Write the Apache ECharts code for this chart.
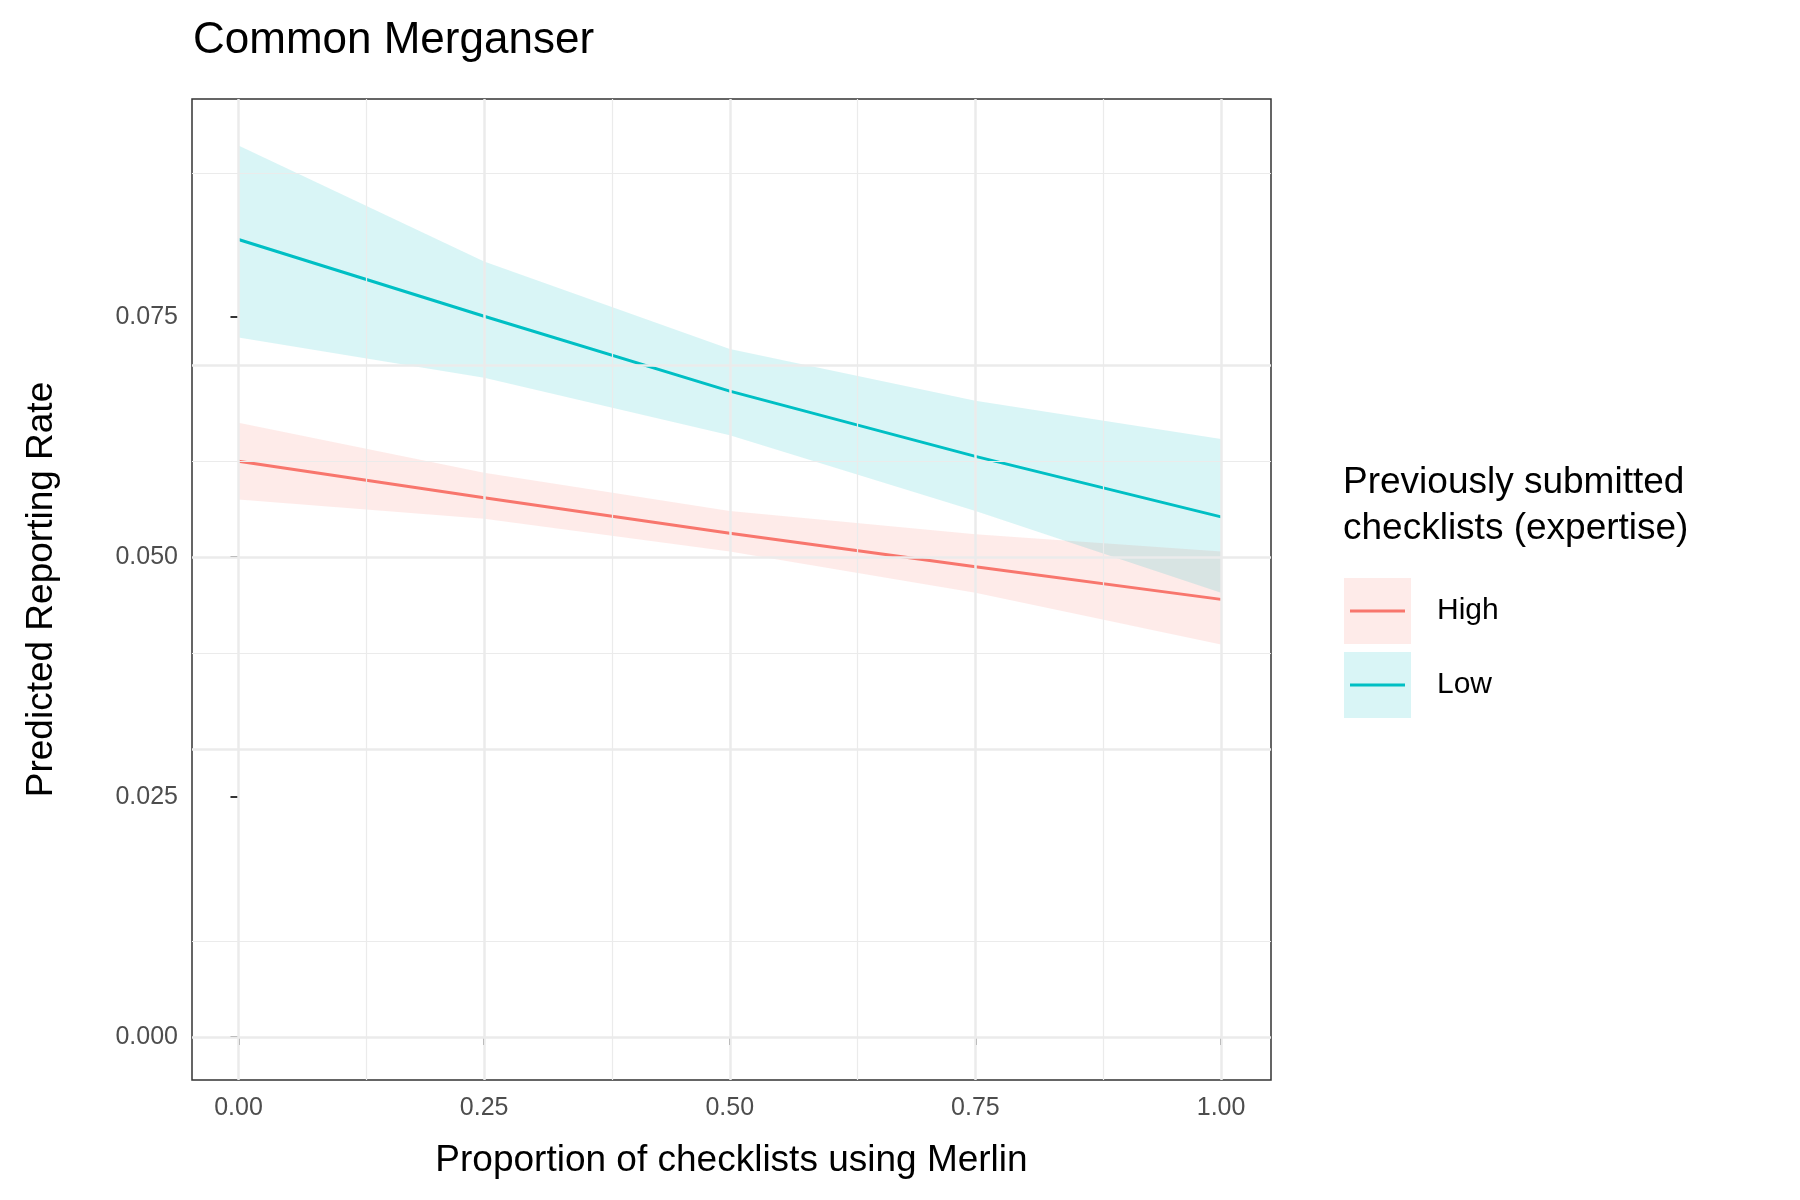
<!DOCTYPE html>
<html>
<head>
<meta charset="utf-8">
<title>Common Merganser</title>
<script src="https://cdn.jsdelivr.net/npm/echarts@6/dist/echarts.min.js"></script>
<style>html,body{margin:0;height:100%;background:#fff}</style>
</head>
<body>
<div id="main" style="width:1800px;height:1200px;"></div>
<script type="text/javascript">
// values
var xs = [0, 0.25, 0.5, 0.75, 1];
var highFit = [0.0600, 0.0562, 0.0525, 0.0490, 0.0456];
var highLo  = [0.0560, 0.0540, 0.0506, 0.0463, 0.0409];
var highHi  = [0.0640, 0.0588, 0.0548, 0.0524, 0.0506];
var lowFit  = [0.0831, 0.0751, 0.0673, 0.0605, 0.0542];
var lowLo   = [0.0729, 0.0687, 0.0627, 0.0548, 0.0463];
var lowHi   = [0.0929, 0.0808, 0.0717, 0.0663, 0.0623];
var yTicks = [0, 0.025, 0.05, 0.075];
var yMinor = [0.0125, 0.0375, 0.0625, 0.0875];
var xTicks = [0, 0.25, 0.5, 0.75, 1];
var xMinor = [0.125, 0.375, 0.625, 0.875];

var RED = '#F8766D', CYAN = '#00BFC4';
function pts(v) { return xs.map(function (x, i) { return [x, v[i]]; }); }

// ribbon drawn as a polygon through the axis scales
function band(lo, hi, color) {
  return {
    type: 'custom', silent: true, z: 1,
    data: [[0, 0]],
    renderItem: function (params, api) {
      var poly = [];
      xs.forEach(function (x, i) { poly.push(api.coord([x, hi[i]])); });
      for (var i = xs.length - 1; i >= 0; i--) poly.push(api.coord([xs[i], lo[i]]));
      return { type: 'polygon', shape: { points: poly }, style: { fill: color, opacity: 0.15 } };
    }
  };
}

var gridLines = [];
function gl(key, v, w) { var o = { lineStyle: { width: w, color: '#ebebeb', type: 'solid' } }; o[key] = v; gridLines.push(o); }
yTicks.forEach(function (v) { gl('yAxis', v, 2.5); });
yMinor.forEach(function (v) { gl('yAxis', v, 1.2); });
xTicks.forEach(function (v) { gl('xAxis', v, 2.5); });
xMinor.forEach(function (v) { gl('xAxis', v, 1.2); });

var myChart = echarts.init(document.getElementById('main'));
var tickFont = { fontFamily: 'Liberation Sans', fontSize: 25, color: '#4d4d4d' };
myChart.setOption({
  animation: false,
  title: { text: 'Common Merganser', left: 188, top: 14,
    textStyle: { fontFamily: 'Liberation Sans', fontSize: 44, fontWeight: 'normal', color: '#000' } },
  grid: { left: 192, right: 529, top: 99, bottom: 120, show: true, borderColor: '#333', borderWidth: 1.5, backgroundColor: '#fff' },
  xAxis: {
    type: 'value', min: -0.0473, max: 1.0508,
    name: 'Proportion of checklists using Merlin', nameLocation: 'middle', nameGap: 62,
    nameTextStyle: { fontFamily: 'Liberation Sans', fontSize: 37, color: '#000' },
    axisLine: { show: false }, splitLine: { show: false },
    axisTick: { show: true, customValues: xTicks, length: 8, lineStyle: { color: '#333', width: 2 } },
    axisLabel: Object.assign({ customValues: xTicks, margin: 16, formatter: function (v) { return v.toFixed(2); } }, tickFont)
  },
  yAxis: {
    type: 'value', min: -0.00448, max: 0.09774,
    name: 'Predicted Reporting Rate', nameLocation: 'middle', nameGap: 132,
    nameTextStyle: { fontFamily: 'Liberation Sans', fontSize: 37, color: '#000' },
    axisLine: { show: false }, splitLine: { show: false },
    axisTick: { show: true, customValues: yTicks, length: 8, lineStyle: { color: '#333', width: 2 } },
    axisLabel: Object.assign({ customValues: yTicks, margin: 14, formatter: function (v) { return v.toFixed(3); } }, tickFont)
  },
  series: [
    { type: 'line', data: [[0, 0]], symbol: 'none', lineStyle: { opacity: 0 },
      markLine: { silent: true, symbol: 'none', label: { show: false }, data: gridLines }, z: 0 },
    band(highLo, highHi, RED),
    band(lowLo, lowHi, CYAN),
    { type: 'line', name: 'High', data: pts(highFit), symbol: 'none', lineStyle: { color: RED, width: 3 }, z: 3 },
    { type: 'line', name: 'Low', data: pts(lowFit), symbol: 'none', lineStyle: { color: CYAN, width: 3 }, z: 3 }
  ],
  graphic: [
    { type: 'text', left: 1343, top: 460, style: { text: 'Previously submitted\nchecklists (expertise)', fontFamily: 'Liberation Sans', fontSize: 37, lineHeight: 46, fill: '#000' } },
    { type: 'rect', shape: { x: 1344, y: 578, width: 67, height: 66 }, style: { fill: RED, opacity: 0.15 } },
    { type: 'line', shape: { x1: 1350, y1: 611, x2: 1405, y2: 611 }, style: { stroke: RED, lineWidth: 3 } },
    { type: 'rect', shape: { x: 1344, y: 652, width: 67, height: 66 }, style: { fill: CYAN, opacity: 0.15 } },
    { type: 'line', shape: { x1: 1350, y1: 685, x2: 1405, y2: 685 }, style: { stroke: CYAN, lineWidth: 3 } },
    { type: 'text', left: 1437, top: 596, style: { text: 'High', fontFamily: 'Liberation Sans', fontSize: 30, fill: '#000' } },
    { type: 'text', left: 1437, top: 670, style: { text: 'Low', fontFamily: 'Liberation Sans', fontSize: 30, fill: '#000' } }
  ]
});
</script>
</body>
</html>
